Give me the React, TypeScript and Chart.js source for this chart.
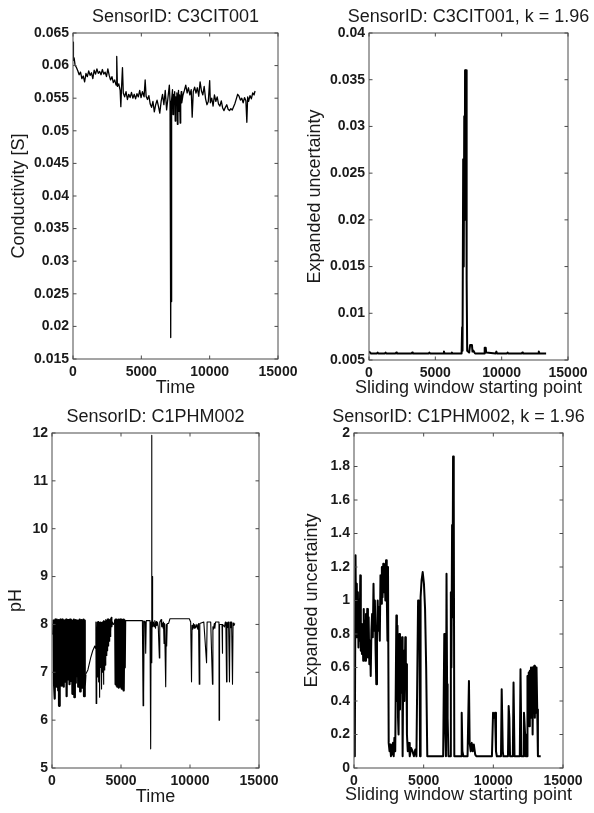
import React, { useEffect, useRef } from 'react';
import { Chart, registerables } from 'chart.js';

Chart.register(...registerables);

const FONT = '"Liberation Sans", Arial, Helvetica, sans-serif';
const TEXT = '#1a1a1a';

type Pt = [number, number];

// ---------- tick values / labels ----------
const xTickValues = [0, 5000, 10000, 15000];
const xTickLabels = ['0', '5000', '10000', '15000'];

const condTickValues = [0.015, 0.02, 0.025, 0.03, 0.035, 0.04, 0.045, 0.05, 0.055, 0.06, 0.065];
const condTickLabels = ['0.015', '0.02', '0.025', '0.03', '0.035', '0.04', '0.045', '0.05', '0.055', '0.06', '0.065'];

const uncCondTickValues = [0.005, 0.01, 0.015, 0.02, 0.025, 0.03, 0.035, 0.04];
const uncCondTickLabels = ['0.005', '0.01', '0.015', '0.02', '0.025', '0.03', '0.035', '0.04'];

const phTickValues = [5, 6, 7, 8, 9, 10, 11, 12];
const phTickLabels = ['5', '6', '7', '8', '9', '10', '11', '12'];

const uncPhTickValues = [0, 0.2, 0.4, 0.6, 0.8, 1, 1.2, 1.4, 1.6, 1.8, 2];
const uncPhTickLabels = ['0', '0.2', '0.4', '0.6', '0.8', '1', '1.2', '1.4', '1.6', '1.8', '2'];

// ---------- series: [time, value] ----------
const conductivity: Pt[] = [
  [0, 0.0615], [20, 0.0636], [40, 0.0608], [80, 0.0612], [150, 0.0601], [250, 0.0597], [350, 0.0592],
  [450, 0.0586], [550, 0.059], [650, 0.058], [750, 0.0584], [850, 0.0575], [950, 0.0588], [1050, 0.0583],
  [1150, 0.0592], [1250, 0.0585], [1350, 0.0589], [1450, 0.058], [1550, 0.0593], [1650, 0.0587],
  [1750, 0.0595], [1850, 0.0588], [1950, 0.0591], [2050, 0.0586], [2150, 0.0594], [2250, 0.0587],
  [2350, 0.059], [2450, 0.0583], [2550, 0.0595], [2650, 0.0585], [2750, 0.0578], [2850, 0.0583],
  [2950, 0.0574], [3050, 0.0578], [3150, 0.057], [3200, 0.0614], [3250, 0.0568], [3350, 0.0572],
  [3450, 0.0562], [3500, 0.0537], [3550, 0.0565], [3620, 0.0597], [3680, 0.0558], [3780, 0.0552],
  [3880, 0.056], [3980, 0.0548], [4080, 0.0556], [4180, 0.0551], [4280, 0.0559], [4380, 0.055],
  [4480, 0.0556], [4580, 0.0549], [4680, 0.0557], [4780, 0.0552], [4880, 0.0562], [4980, 0.0551],
  [5080, 0.056], [5200, 0.0552], [5280, 0.0578], [5350, 0.0553], [5450, 0.0548], [5550, 0.0554],
  [5650, 0.0541], [5750, 0.0536], [5850, 0.0545], [5950, 0.0529], [6050, 0.054], [6150, 0.0547],
  [6250, 0.0538], [6350, 0.0527], [6450, 0.0545], [6550, 0.0556], [6650, 0.054], [6750, 0.0562],
  [6850, 0.0532], [6950, 0.0551], [7050, 0.057], [7100, 0.0545], [7150, 0.0183], [7180, 0.054],
  [7200, 0.0238], [7230, 0.0548], [7280, 0.0563], [7320, 0.0525], [7360, 0.0556], [7400, 0.054],
  [7440, 0.056], [7480, 0.0515], [7520, 0.0552], [7560, 0.0546], [7600, 0.0558], [7640, 0.051],
  [7680, 0.0549], [7720, 0.0562], [7760, 0.053], [7800, 0.0555], [7840, 0.0512], [7880, 0.0548],
  [7920, 0.056], [7960, 0.0543], [8050, 0.0555], [8150, 0.0562], [8250, 0.057], [8350, 0.0558],
  [8450, 0.0566], [8550, 0.0555], [8650, 0.0563], [8720, 0.0521], [8800, 0.056], [8900, 0.0567],
  [9000, 0.0558], [9100, 0.0566], [9200, 0.0553], [9300, 0.0575], [9400, 0.0561], [9500, 0.0555],
  [9600, 0.0568], [9700, 0.0549], [9800, 0.054], [9900, 0.0545], [10000, 0.0577], [10050, 0.0543],
  [10150, 0.055], [10250, 0.0538], [10350, 0.0555], [10450, 0.0545], [10550, 0.0552], [10650, 0.0541],
  [10750, 0.0538], [10850, 0.0546], [10950, 0.0535], [11050, 0.0531], [11150, 0.0536], [11250, 0.054],
  [11350, 0.0533], [11450, 0.0531], [11550, 0.0534], [11650, 0.0532], [11750, 0.0537], [11850, 0.0542],
  [11950, 0.0549], [12050, 0.0556], [12150, 0.0553], [12250, 0.0547], [12350, 0.055], [12450, 0.0543],
  [12550, 0.0551], [12650, 0.0546], [12720, 0.0513], [12780, 0.0552], [12850, 0.0545], [12950, 0.0554],
  [13050, 0.0549], [13150, 0.0558], [13250, 0.0555], [13320, 0.0561],
];

const uncCond: Pt[] = [
  [0, 0.0059], [150, 0.0057], [600, 0.0057], [650, 0.0058], [700, 0.0057], [1200, 0.0057], [1250, 0.0058],
  [1300, 0.0057], [2000, 0.0057], [2050, 0.0058], [2100, 0.0057], [3200, 0.0057], [3250, 0.0058],
  [3300, 0.0057], [4500, 0.0057], [4550, 0.0058], [4600, 0.0057], [5600, 0.0057], [5650, 0.0059],
  [5700, 0.0057], [6200, 0.0057], [6250, 0.0058], [6300, 0.0057], [6980, 0.0057], [7020, 0.0085],
  [7050, 0.006], [7100, 0.0265], [7140, 0.015], [7180, 0.0311], [7220, 0.02], [7240, 0.036],
  [7280, 0.0355], [7320, 0.036], [7360, 0.0136], [7400, 0.006], [7550, 0.0058], [7620, 0.0066],
  [7760, 0.0066], [7800, 0.0059], [7870, 0.006], [7950, 0.0058], [8000, 0.0057], [8700, 0.0057],
  [8720, 0.0063], [8800, 0.0063], [8830, 0.0058], [9550, 0.0057], [9600, 0.0059], [9650, 0.0057],
  [10400, 0.0057], [10450, 0.0058], [10500, 0.0057], [11500, 0.0057], [11550, 0.0058], [11600, 0.0057],
  [12750, 0.0057], [12800, 0.0059], [12850, 0.0057], [13350, 0.0057],
];

const ph: Pt[] = [
  [0, 7.8], [60, 7.85], [120, 8.1], [150, 6.75], [185, 8.08], [210, 6.45], [240, 8.1], [270, 6.8],
  [300, 8.06], [330, 6.7], [360, 8.1], [390, 6.85], [420, 8.05], [450, 6.62], [480, 8.09], [510, 6.3],
  [540, 8.07], [575, 6.78], [610, 8.1], [640, 6.9], [675, 8.04], [710, 6.72], [745, 8.1], [780, 6.88],
  [815, 8.06], [850, 6.7], [885, 8.08], [920, 6.92], [955, 8.03], [990, 6.8], [1025, 8.1], [1060, 6.5],
  [1095, 8.07], [1130, 6.85], [1165, 8.09], [1200, 6.9], [1235, 8.05], [1270, 6.75], [1305, 8.1],
  [1340, 6.95], [1375, 8.02], [1410, 6.82], [1445, 8.08], [1480, 6.55], [1515, 8.06], [1550, 6.88],
  [1585, 8.1], [1620, 6.48], [1655, 8.04], [1690, 6.78], [1725, 8.09], [1760, 6.92], [1795, 8.05],
  [1830, 7.22], [1865, 8.08], [1900, 6.7], [1935, 8.03], [1970, 6.85], [2005, 8.1], [2040, 6.6],
  [2075, 8.07], [2110, 6.75], [2145, 8.09], [2180, 6.68], [2215, 8.06], [2250, 6.72], [2285, 8.1],
  [2320, 6.5], [2355, 8.08], [2390, 6.7], [2420, 6.95], [2600, 7.05], [2800, 7.3], [2950, 7.45],
  [3100, 7.55], [3150, 7.5], [3180, 8.05], [3200, 6.35], [3240, 7.6], [3270, 8.05], [3300, 6.9],
  [3340, 8.06], [3380, 6.8], [3420, 8.04], [3450, 6.48], [3480, 8.05], [3520, 7.1], [3560, 8.04],
  [3590, 6.65], [3630, 8.05], [3670, 7.0], [3700, 8.06], [3730, 6.75], [3760, 8.08], [3790, 7.05],
  [3820, 8.07], [3850, 7.15], [3880, 8.1], [3910, 7.25], [3940, 8.08], [3970, 7.35], [4000, 8.11],
  [4030, 7.45], [4060, 8.1], [4090, 7.55], [4120, 8.12], [4150, 7.65], [4180, 8.1], [4210, 7.75],
  [4240, 8.13], [4270, 7.85], [4300, 8.15], [4340, 7.95], [4380, 8.05], [4450, 8.0], [4520, 8.02],
  [4580, 8.1], [4610, 6.75], [4640, 8.09], [4670, 6.72], [4700, 8.1], [4730, 6.7], [4760, 8.08],
  [4790, 6.74], [4820, 8.1], [4850, 6.68], [4880, 8.09], [4910, 6.72], [4940, 8.1], [4970, 6.7],
  [5000, 8.08], [5030, 6.66], [5060, 8.1], [5090, 6.7], [5120, 8.09], [5150, 6.68], [5180, 8.1],
  [5210, 6.62], [5240, 8.08], [5270, 7.1], [5300, 8.08], [6550, 8.08], [6600, 6.3], [6630, 8.07],
  [6650, 6.55], [6680, 8.07], [6760, 8.05], [6790, 7.4], [6830, 8.08], [7100, 8.08], [7150, 5.4],
  [7180, 8.05], [7220, 11.95], [7240, 7.2], [7270, 9.0], [7290, 7.95], [7350, 8.05], [7400, 7.95],
  [7450, 8.08], [7500, 7.92], [7550, 8.06], [7600, 7.98], [7650, 8.04], [7700, 7.95], [7780, 7.3],
  [7810, 8.05], [7900, 8.1], [7950, 7.95], [8000, 8.03], [8050, 7.92], [8080, 8.05], [8120, 7.6],
  [8160, 8.02], [8240, 6.7], [8280, 8.0], [8310, 7.55], [8350, 8.02], [8450, 8.02], [8550, 8.12],
  [9950, 8.12], [10050, 8.05], [10110, 6.8], [10150, 7.98], [10200, 7.9], [10250, 8.02], [10300, 7.92],
  [10350, 8.0], [10420, 7.93], [10500, 8.0], [10560, 7.9], [10620, 8.02], [10670, 6.75], [10710, 8.02],
  [11000, 8.05], [11200, 7.2], [11240, 8.05], [11500, 8.05], [11630, 6.75], [11660, 7.95], [11700, 7.9],
  [11760, 8.02], [11800, 7.92], [11850, 8.05], [12100, 8.05], [12110, 6.0], [12140, 8.0], [12320, 8.0],
  [12340, 7.4], [12370, 8.0], [12500, 7.95], [12560, 8.05], [12600, 7.98], [12650, 6.8], [12680, 8.04],
  [12720, 7.93], [12760, 8.05], [12800, 7.95], [12860, 6.8], [12900, 8.05], [12940, 7.93], [12980, 8.05],
  [13020, 7.95], [13080, 6.75], [13120, 8.03], [13180, 7.98], [13250, 8.02],
];

// time spans in which the pH record oscillates so densely that it reads as a solid band
const phDenseSpans: Pt[] = [[120, 2420], [4580, 5300]];

const uncPh: Pt[] = [
  [0, 0.07], [60, 0.12], [110, 1.27], [150, 0.78], [200, 1.1], [240, 0.8], [280, 1.05], [320, 0.72],
  [360, 0.92], [400, 0.76], [450, 1.15], [490, 0.7], [530, 0.86], [570, 0.68], [620, 0.82], [660, 0.64],
  [700, 0.95], [740, 0.7], [780, 0.88], [820, 0.64], [860, 0.92], [900, 0.72], [950, 0.95], [1000, 0.66],
  [1050, 0.9], [1100, 0.62], [1150, 0.76], [1200, 0.55], [1250, 0.82], [1300, 0.92], [1350, 0.78],
  [1400, 1.1], [1450, 0.82], [1500, 1.0], [1550, 0.7], [1600, 0.5], [1650, 0.76], [1700, 1.0],
  [1750, 0.82], [1800, 0.96], [1850, 0.76], [1900, 1.15], [1950, 0.98], [2000, 1.2], [2050, 1.02],
  [2100, 1.22], [2150, 1.05], [2200, 1.18], [2250, 1.0], [2300, 1.24], [2350, 1.05], [2400, 0.76],
  [2440, 1.2], [2490, 0.15], [2550, 0.1], [2600, 0.14], [2650, 0.07], [2700, 0.12], [2750, 0.08],
  [2800, 0.15], [2850, 0.07], [2900, 0.18], [2960, 0.1], [3040, 0.91], [3080, 0.4], [3120, 0.85],
  [3160, 0.3], [3200, 0.2], [3260, 0.8], [3300, 0.35], [3350, 0.72], [3400, 0.45], [3450, 0.78],
  [3490, 0.07], [3530, 0.56], [3580, 0.7], [3620, 0.4], [3680, 0.78], [3720, 0.5], [3760, 0.62],
  [3800, 0.2], [3860, 0.1], [3950, 0.15], [4000, 0.07], [4100, 0.12], [4200, 0.1], [4300, 0.07],
  [4400, 0.11], [4480, 0.07], [4600, 1.0], [4650, 0.9], [4700, 0.85], [4740, 0.07], [4780, 1.02],
  [4850, 1.12], [4930, 1.17], [5020, 1.1], [5100, 0.95], [5180, 0.6], [5260, 0.07], [6400, 0.07],
  [6480, 0.8], [6530, 0.3], [6600, 0.07], [6640, 1.16], [6680, 0.5], [6720, 0.3], [6780, 0.07],
  [6900, 0.07], [6950, 1.05], [6990, 0.6], [7040, 1.45], [7070, 0.9], [7110, 1.86], [7160, 1.6],
  [7200, 0.07], [7680, 0.07], [7730, 0.33], [7780, 0.1], [7850, 0.07], [8150, 0.07], [8250, 0.52],
  [8300, 0.15], [8380, 0.1], [8450, 0.15], [8520, 0.1], [8600, 0.14], [8700, 0.08], [8780, 0.07],
  [9900, 0.07], [9980, 0.33], [10050, 0.3], [10120, 0.33], [10190, 0.1], [10250, 0.07], [10550, 0.07],
  [10600, 0.47], [10680, 0.1], [10720, 0.07], [11050, 0.07], [11100, 0.37], [11150, 0.3], [11200, 0.07],
  [11400, 0.07], [11450, 0.51], [11520, 0.07], [11900, 0.07], [11950, 0.59], [12020, 0.07], [12150, 0.07],
  [12200, 0.33], [12280, 0.2], [12330, 0.07], [12420, 0.07], [12450, 0.55], [12500, 0.3], [12540, 0.57],
  [12580, 0.25], [12620, 0.58], [12660, 0.33], [12700, 0.6], [12740, 0.3], [12780, 0.6], [12820, 0.2],
  [12860, 0.6], [12900, 0.35], [12940, 0.61], [12980, 0.3], [13020, 0.6], [13060, 0.33], [13100, 0.6],
  [13150, 0.35], [13200, 0.07], [13400, 0.07],
];

interface PanelSpec {
  points: Pt[];
  denseSpans?: Pt[];
  title: string;
  xTitle: string;
  yTitle: string;
  yMin: number;
  yMax: number;
  yTicks: number[];
  yLabels: string[];
  lineWidth: number;
  denseWidth?: number;
  left: number;
  top: number;
  w: number;
  h: number;
  yAxisWidth: number;
  padRight: number;
  plotTop: number;
  xAxisHeight: number;
  titleY: number;
  xTitleOffset: number;
  yTitlePad: number;
}

const tickFont = { family: FONT, size: 14, weight: 'bold' as const };
const labelFont = { family: FONT, size: 18, weight: 'normal' as const, lineHeight: 1.2 };

// MATLAB-style box, inward ticks on all four sides, title and x label drawn without width squeeze
function makeFramePlugin(spec: PanelSpec) {
  return {
    id: 'matlabFrame',
    afterDraw(chart: any) {
      const { ctx, chartArea: a, scales } = chart;
      const L = 3.5;
      ctx.save();
      ctx.strokeStyle = '#4a4a4a';
      ctx.lineWidth = 1;
      ctx.strokeRect(a.left, a.top, a.right - a.left, a.bottom - a.top);
      ctx.beginPath();
      scales.x.ticks.forEach((t: any) => {
        const px = scales.x.getPixelForValue(t.value);
        ctx.moveTo(px, a.bottom);
        ctx.lineTo(px, a.bottom - L);
        ctx.moveTo(px, a.top);
        ctx.lineTo(px, a.top + L);
      });
      scales.y.ticks.forEach((t: any) => {
        const py = scales.y.getPixelForValue(t.value);
        ctx.moveTo(a.left, py);
        ctx.lineTo(a.left + L, py);
        ctx.moveTo(a.right, py);
        ctx.lineTo(a.right - L, py);
      });
      ctx.stroke();

      const cx = (a.left + a.right) / 2;
      ctx.fillStyle = TEXT;
      ctx.font = `normal ${labelFont.size}px ${FONT}`;
      ctx.textAlign = 'center';
      ctx.textBaseline = 'middle';
      ctx.fillText(spec.title, cx, spec.titleY);
      ctx.fillText(spec.xTitle, cx, a.bottom + spec.xTitleOffset);
      ctx.restore();
    },
  };
}

function Panel({ spec }: { spec: PanelSpec }) {
  const ref = useRef<HTMLCanvasElement>(null);
  useEffect(() => {
    if (!ref.current) return;
    const spans = spec.denseSpans || [];
    const inDense = (x: number) => spans.some(([a, b]) => x >= a && x <= b);
    const chart = new Chart(ref.current, {
      type: 'line',
      data: {
        datasets: [
          {
            data: spec.points.map(([x, y]) => ({ x, y })),
            borderColor: '#000',
            borderWidth: spec.lineWidth,
            borderJoinStyle: 'round',
            pointRadius: 0,
            tension: 0,
            fill: false,
            segment: spans.length
              ? {
                  borderWidth: (c: any) =>
                    inDense(c.p0.parsed.x) && inDense(c.p1.parsed.x) ? spec.denseWidth : spec.lineWidth,
                }
              : undefined,
          },
        ],
      },
      options: {
        responsive: false,
        animation: false,
        events: [],
        layout: { padding: { left: 0, right: spec.padRight, top: spec.plotTop, bottom: 0 } },
        plugins: {
          legend: { display: false },
          tooltip: { enabled: false },
          title: { display: false },
        },
        scales: {
          x: {
            type: 'linear',
            min: 0,
            max: 15000,
            afterBuildTicks: (s: any) => {
              s.ticks = xTickValues.map((v) => ({ value: v }));
            },
            afterFit: (s: any) => {
              s.height = spec.xAxisHeight;
              s.paddingLeft = 0;
              s.paddingRight = 0;
            },
            grid: { display: false, drawTicks: false },
            border: { display: false },
            ticks: {
              autoSkip: false,
              maxRotation: 0,
              padding: 5,
              color: TEXT,
              font: tickFont,
              callback: (_v: any, i: number) => xTickLabels[i],
            },
            title: { display: false },
          },
          y: {
            type: 'linear',
            min: spec.yMin,
            max: spec.yMax,
            afterBuildTicks: (s: any) => {
              s.ticks = spec.yTicks.map((v) => ({ value: v }));
            },
            afterFit: (s: any) => {
              s.width = spec.yAxisWidth;
              s.paddingTop = 0;
              s.paddingBottom = 0;
            },
            grid: { display: false, drawTicks: false },
            border: { display: false },
            ticks: {
              autoSkip: false,
              padding: 4,
              color: TEXT,
              font: tickFont,
              callback: (_v: any, i: number) => spec.yLabels[i],
            },
            title: {
              display: true,
              text: spec.yTitle,
              color: TEXT,
              font: labelFont,
              padding: { top: spec.yTitlePad, bottom: 0 },
            },
          },
        },
      },
      plugins: [makeFramePlugin(spec)],
    } as any);
    return () => chart.destroy();
  }, [spec]);
  return (
    <canvas
      ref={ref}
      width={spec.w}
      height={spec.h}
      style={{ position: 'absolute', left: spec.left, top: spec.top, width: spec.w, height: spec.h }}
    />
  );
}

const panels: PanelSpec[] = [
  {
    points: conductivity, title: 'SensorID: C3CIT001', xTitle: 'Time', yTitle: 'Conductivity [S]',
    yMin: 0.015, yMax: 0.065, yTicks: condTickValues, yLabels: condTickLabels, lineWidth: 1.3,
    left: 0, top: 0, w: 297, h: 400, yAxisWidth: 73, padRight: 19, plotTop: 33, xAxisHeight: 41,
    titleY: 17.5, xTitleOffset: 29.5, yTitlePad: 8.5,
  },
  {
    points: uncCond, title: 'SensorID: C3CIT001, k = 1.96', xTitle: 'Sliding window starting point',
    yTitle: 'Expanded uncertainty', yMin: 0.005, yMax: 0.04, yTicks: uncCondTickValues, yLabels: uncCondTickLabels,
    lineWidth: 2, left: 297, top: 0, w: 297, h: 400, yAxisWidth: 72, padRight: 26, plotTop: 33, xAxisHeight: 40,
    titleY: 17.5, xTitleOffset: 28.5, yTitlePad: 7,
  },
  {
    points: ph, denseSpans: phDenseSpans, title: 'SensorID: C1PHM002', xTitle: 'Time', yTitle: 'pH',
    yMin: 5, yMax: 12, yTicks: phTickValues, yLabels: phTickLabels, lineWidth: 1.1, denseWidth: 2.2,
    left: 0, top: 400, w: 297, h: 413, yAxisWidth: 52, padRight: 38, plotTop: 33, xAxisHeight: 45,
    titleY: 17.5, xTitleOffset: 29.5, yTitlePad: 5.5,
  },
  {
    points: uncPh, title: 'SensorID: C1PHM002, k = 1.96', xTitle: 'Sliding window starting point',
    yTitle: 'Expanded uncertainty', yMin: 0, yMax: 2, yTicks: uncPhTickValues, yLabels: uncPhTickLabels,
    lineWidth: 2, left: 297, top: 400, w: 297, h: 413, yAxisWidth: 57, padRight: 31, plotTop: 33, xAxisHeight: 45,
    titleY: 17.5, xTitleOffset: 27.5, yTitlePad: 4,
  },
];

export default function App() {
  return (
    <div style={{ position: 'absolute', left: 0, top: 0, width: 594, height: 813, background: '#fff' }}>
      {panels.map((p, i) => (
        <Panel key={i} spec={p} />
      ))}
    </div>
  );
}
